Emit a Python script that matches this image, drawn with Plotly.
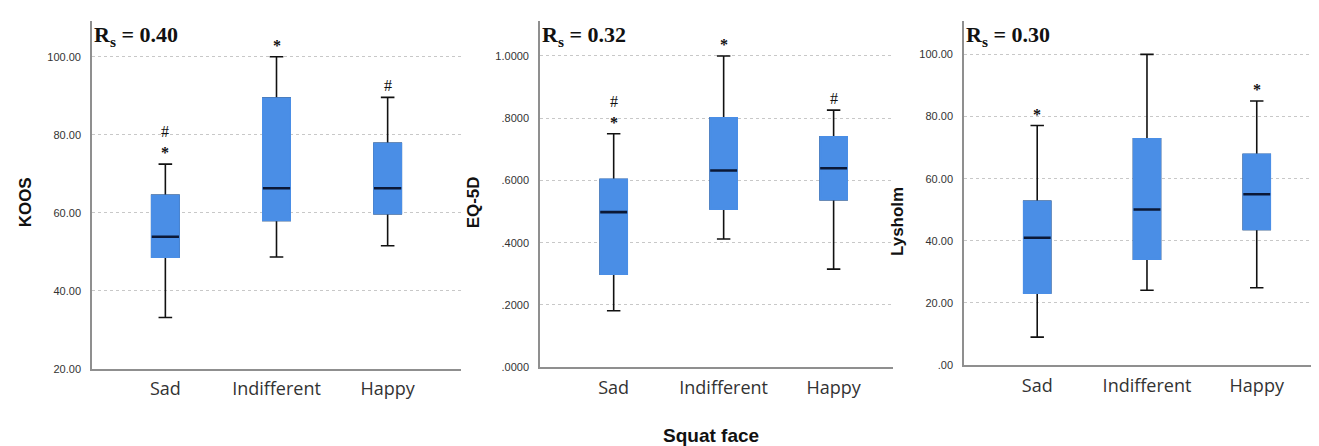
import plotly.graph_objects as go

W, H = 1319, 446

categories = ["Sad", "Indifferent", "Happy"]

# KOOS
koos_lower = [33.2, 48.7, 51.6]
koos_q1 = [48.7, 58.1, 59.8]
koos_median = [53.9, 66.3, 66.3]
koos_q3 = [64.5, 89.4, 77.8]
koos_upper = [72.5, 100.0, 89.6]
koos_marks = ["#<br><b>*</b>", "<b>*</b>", "#"]
koos_tickvals = [20, 40, 60, 80, 100]
koos_ticktext = ["20.00", "40.00", "60.00", "80.00", "100.00"]

# EQ-5D
eq_lower = [0.181, 0.412, 0.315]
eq_q1 = [0.299, 0.508, 0.538]
eq_median = [0.498, 0.632, 0.639]
eq_q3 = [0.603, 0.801, 0.740]
eq_upper = [0.750, 1.000, 0.826]
eq_marks = ["#<br><b>*</b>", "<b>*</b>", "#"]
eq_tickvals = [0, 0.2, 0.4, 0.6, 0.8, 1.0]
eq_ticktext = [".0000", ".2000", ".4000", ".6000", ".8000", "1.0000"]

# Lysholm
ly_lower = [9.0, 24.1, 24.9]
ly_q1 = [23.2, 34.1, 43.7]
ly_median = [41.0, 50.1, 55.0]
ly_q3 = [52.7, 72.8, 67.8]
ly_upper = [77.1, 100.0, 85.0]
ly_marks = ["<b>*</b>", "", "<b>*</b>"]
ly_tickvals = [0, 20, 40, 60, 80, 100]
ly_ticktext = [".00", "20.00", "40.00", "60.00", "80.00", "100.00"]

rs_texts = ["0.40", "0.32", "0.30"]
y_titles = ["KOOS", "EQ-5D", "Lysholm"]
x_title = "Squat face"

BOX = "#4a8ee6"
MED = "#0b1836"
AX = "#8f8f8f"

panels = [
    dict(lower=koos_lower, q1=koos_q1, med=koos_median, q3=koos_q3, upper=koos_upper,
         marks=koos_marks, tv=koos_tickvals, tt=koos_ticktext, yr=[20, 109.2],
         px=(84, 453), py=(13, 366), xr=[-0.66, 2.66], ytitle_xy=(17, 197)),
    dict(lower=eq_lower, q1=eq_q1, med=eq_median, q3=eq_q3, upper=eq_upper,
         marks=eq_marks, tv=eq_tickvals, tt=eq_ticktext, yr=[0, 1.113],
         px=(532, 885), py=(13, 364), xr=[-0.67, 2.54], ytitle_xy=(465, 197)),
    dict(lower=ly_lower, q1=ly_q1, med=ly_median, q3=ly_q3, upper=ly_upper,
         marks=ly_marks, tv=ly_tickvals, tt=ly_ticktext, yr=[0, 110.8],
         px=(956, 1319), py=(13, 362), xr=[-0.667, 2.64], ytitle_xy=(889, 217)),
]

fig = go.Figure()
annotations = []
BW = 0.245

for i, p in enumerate(panels):
    xa = "x" if i == 0 else f"x{i+1}"
    ya = "y" if i == 0 else f"y{i+1}"
    # whiskers + caps (black)
    fig.add_trace(go.Box(
        x=categories, q1=p["q1"], median=p["med"], q3=p["q3"],
        lowerfence=p["lower"], upperfence=p["upper"],
        fillcolor=BOX, line=dict(color="#111111", width=1.6),
        width=BW, whiskerwidth=0.5, boxpoints=False,
        xaxis=xa, yaxis=ya, showlegend=False, hoverinfo="skip"))
    # blue box body covering black outline
    fig.add_trace(go.Box(
        x=categories, q1=p["q1"], median=p["q1"], q3=p["q3"],
        lowerfence=p["q1"], upperfence=p["q3"],
        fillcolor=BOX, line=dict(color=BOX, width=1.8),
        width=BW, whiskerwidth=0, boxpoints=False,
        xaxis=xa, yaxis=ya, showlegend=False, hoverinfo="skip"))
    # median line
    fig.add_trace(go.Box(
        x=categories, q1=p["med"], median=p["med"], q3=p["med"],
        lowerfence=p["med"], upperfence=p["med"],
        fillcolor="rgba(0,0,0,0)", line=dict(color=MED, width=2.6),
        width=BW, whiskerwidth=0, boxpoints=False,
        xaxis=xa, yaxis=ya, showlegend=False, hoverinfo="skip"))

    x0, x1 = p["px"]
    y0, y1 = p["py"]
    dom_x = [x0 / W, x1 / W]
    dom_y = [1 - y1 / H, 1 - y0 / H]
    sfx = "" if i == 0 else str(i + 1)
    fig.update_layout(**{
        f"xaxis{sfx}": dict(
            domain=dom_x, range=p["xr"], type="category",
            categoryorder="array", categoryarray=categories,
            showline=True, linecolor=AX, linewidth=1.6, showgrid=False,
            zeroline=False, ticks="", ticklabelstandoff=3,
            tickfont=dict(family="Open Sans", size=18, color="#333333"),
            anchor=ya, fixedrange=True),
        f"yaxis{sfx}": dict(
            domain=dom_y, range=p["yr"], tickvals=p["tv"], ticktext=p["tt"],
            showline=True, linecolor=AX, linewidth=1.6,
            showgrid=True, gridcolor="#c8c8c8", griddash="dot", gridwidth=1,
            zeroline=False, ticks="", ticklabelstandoff=7,
            tickfont=dict(family="Arial, Liberation Sans", size=11, color="#333333"),
            anchor=xa, fixedrange=True),
    })

    # significance marks above upper whiskers
    for c, up, m in zip(categories, p["upper"], p["marks"]):
        if m:
            annotations.append(dict(
                x=c, y=up, xref=xa, yref=ya, text=m, showarrow=False,
                yanchor="bottom", yshift=1,
                font=dict(family="Liberation Serif", size=16, color="#111111"),
                align="center"))

    # Rs text
    annotations.append(dict(
        x=(x0 + 0) / W, y=1 - 28 / H, xref="paper", yref="paper",
        xanchor="left", yanchor="middle", showarrow=False,
        text=f"<b>R<sub>s</sub> = {rs_texts[i]}</b>",
        font=dict(family="Liberation Serif", size=22, color="#111111")))

    # y title
    tx, ty = p["ytitle_xy"]
    annotations.append(dict(
        x=tx / W, y=1 - ty / H, xref="paper", yref="paper",
        xanchor="center", yanchor="middle", showarrow=False, textangle=-90,
        text=f"<b>{y_titles[i]}</b>",
        font=dict(family="Arial, Liberation Sans", size=17, color="#111111")))

annotations.append(dict(
    x=703 / W, y=1 - 433 / H, xref="paper", yref="paper",
    xanchor="center", yanchor="middle", showarrow=False,
    text=f"<b>{x_title}</b>",
    font=dict(family="Arial, Liberation Sans", size=19, color="#111111")))

fig.update_layout(
    width=W, height=H, margin=dict(l=0, r=0, t=0, b=0),
    paper_bgcolor="white", plot_bgcolor="white",
    boxmode="overlay", annotations=annotations, showlegend=False)

fig.write_html("out.html", config={"displayModeBar": False})
